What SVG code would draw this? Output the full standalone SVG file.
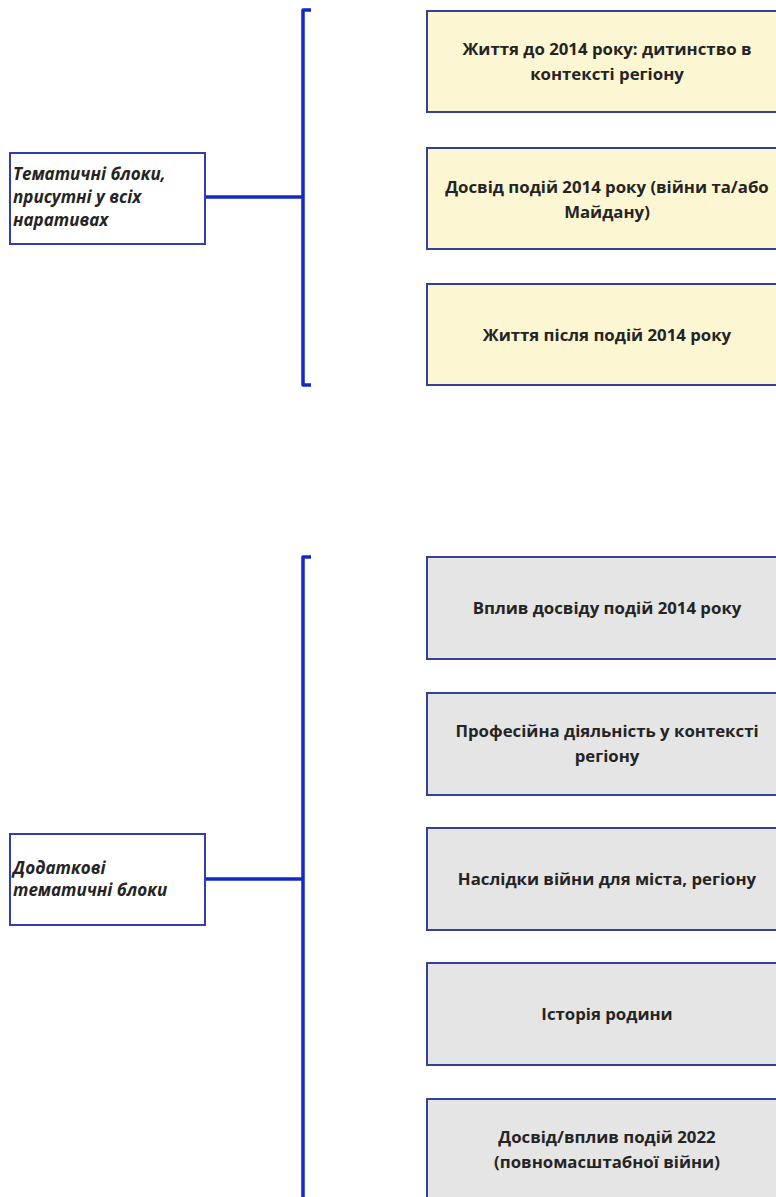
<svg xmlns="http://www.w3.org/2000/svg" width="776" height="1197" viewBox="0 0 776 1197">
<style>
.bg{fill:#ffffff}
.lbl{fill:#ffffff;stroke:#2f3fb0;stroke-width:2}
.y{fill:#fdf6d3;stroke:#34409a;stroke-width:2}
.g{fill:#e5e5e5;stroke:#34409a;stroke-width:2}
.t{font-family:"Open Sans","Noto Sans",sans-serif;font-weight:bold;font-size:16.8px;fill:#242424;text-anchor:middle}
.it{font-family:"Open Sans","Noto Sans",sans-serif;font-weight:bold;font-style:italic;font-size:17px;fill:#242424}
.c{fill:none;stroke:#1428c8;stroke-width:3.5;stroke-linejoin:round}
</style>
<rect class="bg" x="0" y="0" width="776" height="1197"/>
<g id="connectors">
<path class="c" d="M311,10 H303 V385 H311"/>
<path class="c" d="M205,197 H303"/>
<path class="c" d="M311,557 H303 V1200"/>
<path class="c" d="M205,879 H303"/>
</g>
<g id="label1">
<rect class="lbl" x="10" y="153" width="195" height="91"/>
<text class="it" x="13" y="180">Тематичні блоки,</text>
<text class="it" x="13" y="203">присутні у всіх</text>
<text class="it" x="13" y="226">наративах</text>
</g>
<g id="label2">
<rect class="lbl" x="10" y="834" width="195" height="91"/>
<text class="it" x="13" y="874">Додаткові</text>
<text class="it" x="13" y="896">тематичні блоки</text>
</g>
<g id="a1">
<rect class="y" x="427" y="11" width="360" height="101"/>
<text class="t" x="607" y="55">Життя до 2014 року: дитинство в</text>
<text class="t" x="607" y="80">контексті регіону</text>
</g>
<g id="a2">
<rect class="y" x="427" y="148" width="360" height="101"/>
<text class="t" x="607" y="193">Досвід подій 2014 року (війни та/або</text>
<text class="t" x="607" y="218">Майдану)</text>
</g>
<g id="a3">
<rect class="y" x="427" y="284" width="360" height="101"/>
<text class="t" x="607" y="341">Життя після подій 2014 року</text>
</g>
<g id="b1">
<rect class="g" x="427" y="557" width="360" height="102"/>
<text class="t" x="607" y="614">Вплив досвіду подій 2014 року</text>
</g>
<g id="b2">
<rect class="g" x="427" y="693" width="360" height="102"/>
<text class="t" x="607" y="737">Професійна діяльність у контексті</text>
<text class="t" x="607" y="762">регіону</text>
</g>
<g id="b3">
<rect class="g" x="427" y="828" width="360" height="102"/>
<text class="t" x="607" y="885">Наслідки війни для міста, регіону</text>
</g>
<g id="b4">
<rect class="g" x="427" y="963" width="360" height="102"/>
<text class="t" x="607" y="1020">Історія родини</text>
</g>
<g id="b5">
<rect class="g" x="427" y="1099" width="360" height="102"/>
<text class="t" x="607" y="1143">Досвід/вплив подій 2022</text>
<text class="t" x="607" y="1168">(повномасштабної війни)</text>
</g>
</svg>
